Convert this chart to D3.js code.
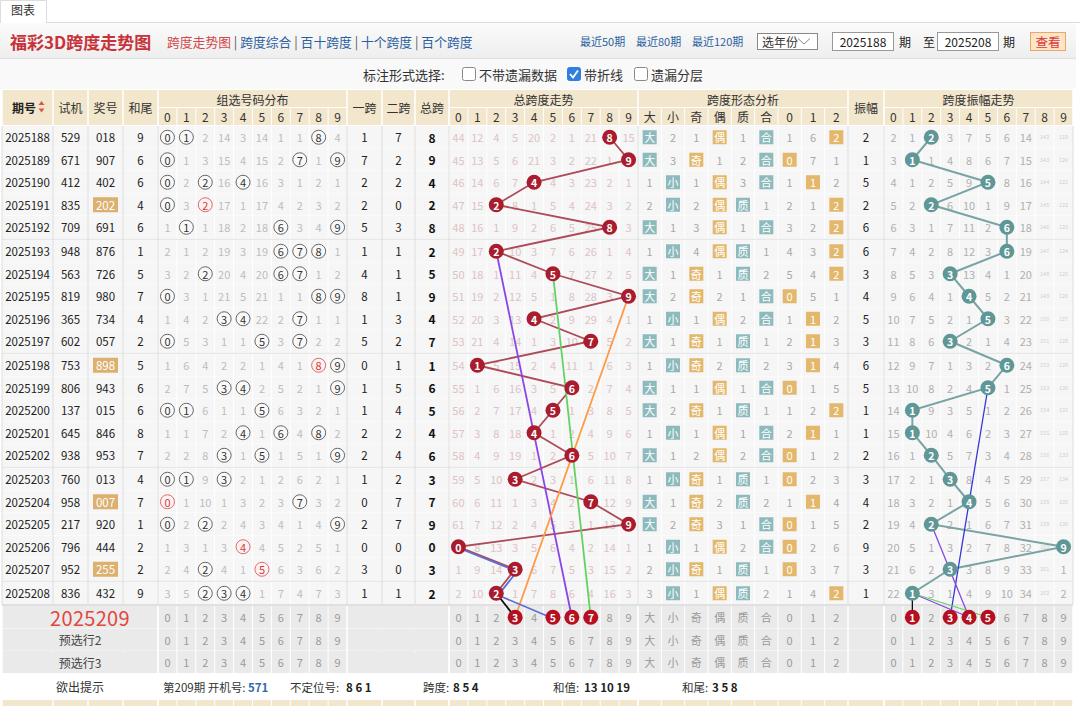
<!DOCTYPE html>
<html><head><meta charset="utf-8">
<script src="https://cdn.jsdelivr.net/npm/d3@7"></script>
<style>
body{margin:0;background:#fff;}
svg{display:block;font-family:"Noto Sans CJK SC","Noto Sans",sans-serif;}
</style>
</head><body>
<svg id="c" width="1080" height="706"></svg>
<script>
// ---------------- DATA ----------------
const periods = ["2025188","2025189","2025190","2025191","2025192","2025193","2025194","2025195","2025196","2025197","2025198","2025199","2025200","2025201","2025202","2025203","2025204","2025205","2025206","2025207","2025208"];
const shiji = ["529","671","412","835","709","948","563","819","365","602","753","806","137","645","938","760","958","217","796","952","836"];
const jianghao = ["018","907","402","202","691","876","726","980","734","057","898","943","015","846","953","013","007","920","444","255","432"];
const hewei = [9,6,6,4,6,1,5,7,4,2,5,6,6,8,7,4,7,1,2,2,9];
const zuxuanMiss = [
 [null,null,2,14,3,14,1,1,null,4],
 [null,1,3,15,4,15,2,null,1,null],
 [null,2,null,16,null,16,3,1,2,1],
 [null,3,null,17,1,17,4,2,3,2],
 [1,null,1,18,2,18,null,3,4,null],
 [2,1,2,19,3,19,null,null,null,1],
 [3,2,null,20,4,20,null,null,1,2],
 [null,3,1,21,5,21,1,1,null,null],
 [1,4,2,null,null,22,2,null,1,1],
 [null,5,3,1,1,null,3,null,2,2],
 [1,6,4,2,2,1,4,1,null,null],
 [2,7,5,null,null,2,5,2,1,null],
 [null,null,6,1,1,null,6,3,2,1],
 [1,1,7,2,null,1,null,4,null,2],
 [2,2,8,null,1,null,1,5,1,null],
 [null,null,9,null,2,1,2,6,2,1],
 [null,1,10,1,3,2,3,null,3,2],
 [null,2,null,2,4,3,4,1,4,null],
 [1,3,1,3,null,4,5,2,5,1],
 [2,4,null,4,1,null,6,3,6,2],
 [3,5,null,null,null,1,7,4,7,3]
];
const yikua = [1,7,2,2,5,1,4,8,1,5,0,1,1,2,2,1,0,2,0,3,1];
const erkua = [7,2,2,0,3,1,1,1,3,2,1,5,4,2,4,2,7,7,0,0,1];
const zongkua = [8,9,4,2,8,2,5,9,4,7,1,6,5,4,6,3,7,9,0,3,2];
const spanMiss = [
 [44,12,4,5,20,2,1,21,null,15],
 [45,13,5,6,21,3,2,22,1,null],
 [46,14,6,7,null,4,3,23,2,1],
 [47,15,null,8,1,5,4,24,3,2],
 [48,16,1,9,2,6,5,25,null,3],
 [49,17,null,10,3,7,6,26,1,4],
 [50,18,1,11,4,null,7,27,2,5],
 [51,19,2,12,5,1,8,28,3,null],
 [52,20,3,13,null,2,9,29,4,1],
 [53,21,4,14,1,3,10,null,5,2],
 [54,null,5,15,2,4,11,1,6,3],
 [55,1,6,16,3,5,null,2,7,4],
 [56,2,7,17,4,null,1,3,8,5],
 [57,3,8,18,null,1,2,4,9,6],
 [58,4,9,19,1,2,null,5,10,7],
 [59,5,10,null,2,3,1,6,11,8],
 [60,6,11,1,3,4,2,null,12,9],
 [61,7,12,2,4,5,3,1,13,null],
 [null,8,13,3,5,6,4,2,14,1],
 [1,9,14,null,6,7,5,3,15,2],
 [2,10,null,1,7,8,6,4,16,3]
];
const shapeLabels = ["大","小","奇","偶","质","合","0","1","2"];
const shapeMiss = [
 [null,2,1,null,1,null,1,6,null],
 [null,3,null,1,2,null,null,7,1],
 [1,null,1,null,3,null,1,null,2],
 [2,null,2,null,null,1,2,1,null],
 [null,1,3,null,1,null,3,2,null],
 [1,null,4,null,null,1,4,3,null],
 [null,1,null,1,null,2,5,4,null],
 [null,2,null,2,1,null,null,5,1],
 [1,null,1,null,2,null,1,null,2],
 [null,1,null,1,null,1,2,null,3],
 [1,null,null,2,null,2,3,null,4],
 [null,1,1,null,1,null,null,1,5],
 [null,2,null,1,null,1,1,2,null],
 [1,null,1,null,1,null,2,null,1],
 [null,1,2,null,2,null,null,1,2],
 [1,null,null,1,null,1,null,2,3],
 [null,1,null,2,null,2,1,null,4],
 [null,2,null,3,1,null,null,1,5],
 [1,null,1,null,2,null,null,2,6],
 [2,null,null,1,null,1,null,3,7],
 [3,null,1,null,null,2,1,4,null]
];
const zhenfu = [2,1,5,2,6,6,3,4,5,3,6,5,1,1,2,3,4,2,9,3,1];
const ampMiss = [
 [2,1,null,3,7,5,6,14,142,119],
 [3,null,1,4,8,6,7,15,143,120],
 [4,1,2,5,9,null,8,16,144,121],
 [5,2,null,6,10,1,9,17,145,122],
 [6,3,1,7,11,2,null,18,146,123],
 [7,4,2,8,12,3,null,19,147,124],
 [8,5,3,null,13,4,1,20,148,125],
 [9,6,4,1,null,5,2,21,149,126],
 [10,7,5,2,1,null,3,22,150,127],
 [11,8,6,null,2,1,4,23,151,128],
 [12,9,7,1,3,2,null,24,152,129],
 [13,10,8,2,4,null,1,25,153,130],
 [14,null,9,3,5,1,2,26,154,131],
 [15,null,10,4,6,2,3,27,155,132],
 [16,1,null,5,7,3,4,28,156,133],
 [17,2,1,null,8,4,5,29,157,134],
 [18,3,2,1,null,5,6,30,158,135],
 [19,4,null,2,1,6,7,31,159,136],
 [20,5,1,3,2,7,8,32,160,null],
 [21,6,2,null,3,8,9,33,161,1],
 [22,null,3,1,4,9,10,34,162,2]
];
const predLabels = ["2025209","预选行2","预选行3"];
const predSpan = [3,5,6,7];
const predAmp = [1,3,4,5];
// user-drawn guide lines: [rowIndex, value]; row 21 = 2025209
const spanGuides = [
 {color:"#8b45e6", pts:[[5,2],[21,6]]},
 {color:"#62d262", pts:[[6,5],[21,7]]},
 {color:"#ff9b45", pts:[[7,9],[21,3]]},
 {color:"#5a6fd8", pts:[[18,0],[19,3],[20,2],[21,5]], off:2},
 {color:"#111111", pts:[[20,2],[21,3]]}
];
const ampGuides = [
 {color:"#3636d6", pts:[[11,5],[21,3]]},
 {color:"#8b45e6", pts:[[17,2],[21,4]]},
 {color:"#8b45e6", pts:[[20,1],[21,4]]},
 {color:"#62d262", pts:[[20,1],[21,5]]},
 {color:"#111111", pts:[[20,1],[21,1]]}
];
const tipItems = [
 {label:"第209期 开机号:", value:"571", x:163, vx:248, vcolor:"#2f6aa6"},
 {label:"不定位号:", value:"8 6 1", x:290, vx:346},
 {label:"跨度:", value:"8 5 4", x:423, vx:453},
 {label:"和值:", value:"13 10 19", x:553, vx:584},
 {label:"和尾:", value:"3 5 8", x:682, vx:712}
];

// ---------------- LAYOUT ----------------
const svg = d3.select("#c");
const colQ=[2,53], colS=[53,88], colJ=[88,123], colH=[123,158];
const zx = d3.scaleBand().domain(d3.range(10)).range([158,347]);
const colY1=[347,382], colY2=[382,415], colZ=[415,449];
const sx = d3.scaleBand().domain(d3.range(10)).range([449,638]);
const fx = d3.scaleBand().domain(d3.range(9)).range([638,848]);
const colF=[848,884];
const ax = d3.scaleBand().domain(d3.range(10)).range([884,1073]);
const RH = 22.5;
const rowScale = d3.scaleLinear().domain([0,1]).range([126,126+RH]);
const rowTop = i => i<=20 ? rowScale(i) + Math.floor(i/5)*1.5 : 606 + (i-21)*RH;
const cy = i => rowTop(i) + RH/2;
const mid = c => (c[0]+c[1])/2;
const bc = (sc,v) => sc(v)+sc.bandwidth()/2;

function txt(g,x,y,s,o={}){
  return g.append("text").attr("x",x).attr("y",y)
    .attr("text-anchor",o.anchor||"middle").attr("dominant-baseline","central")
    .attr("font-size",o.size||12).attr("fill",o.fill||"#333")
    .attr("font-weight",o.weight||"normal").text(s);
}

// ---------------- TOP ----------------
const tp = svg.append("g");
tp.append("rect").attr("x",0).attr("y",0).attr("width",1080).attr("height",23).attr("fill","#fff");
tp.append("line").attr("x1",0).attr("x2",1080).attr("y1",22.5).attr("y2",22.5).attr("stroke","#ddd");
tp.append("path").attr("d","M0.5,23V0.5H46.5V23").attr("fill","#fff").attr("stroke","#ddd");
tp.append("rect").attr("x",1).attr("y",1).attr("width",45).attr("height",22.5).attr("fill","#fff");
txt(tp,23,9.5,"图表",{size:12,fill:"#333"});
const defs = svg.append("defs");
const gr = defs.append("linearGradient").attr("id","tg").attr("x1",0).attr("x2",0).attr("y1",0).attr("y2",1);
gr.append("stop").attr("offset","0").attr("stop-color","#fbfbfb");
gr.append("stop").attr("offset","1").attr("stop-color","#eeeeee");
tp.append("rect").attr("x",0).attr("y",23).attr("width",1076).attr("height",35).attr("fill","url(#tg)");
tp.append("line").attr("x1",0).attr("x2",1076).attr("y1",58.5).attr("y2",58.5).attr("stroke","#e0e0e0");
tp.append("rect").attr("x",0).attr("y",59).attr("width",1076).attr("height",30).attr("fill","#f9f9f9");
txt(tp,10,41,"福彩3D跨度走势图",{anchor:"start",size:17,weight:"bold",fill:"#c8323a"});
const links = tp.append("text").attr("x",167).attr("y",41).attr("dominant-baseline","central").attr("font-size",12.8);
links.append("tspan").attr("fill","#d2474a").text("跨度走势图");
["跨度综合","百十跨度","十个跨度","百个跨度"].forEach(s=>{
  links.append("tspan").attr("fill","#555").text(" | ");
  links.append("tspan").attr("fill","#2b5fa0").text(s);
});
[["最近50期",580],["最近80期",636],["最近120期",692]].forEach(([s,x])=>txt(tp,x,41,s,{anchor:"start",size:11,fill:"#2b5fa0"}));
tp.append("rect").attr("x",757.5).attr("y",33.5).attr("width",60).attr("height",16).attr("fill","#fff").attr("stroke","#888");
txt(tp,762,41.5,"选年份",{anchor:"start",size:12,fill:"#333"});
tp.append("path").attr("d","M798,38.5L804,44L810,38.5").attr("fill","none").attr("stroke","#888");
tp.append("rect").attr("x",832.5).attr("y",32.5).attr("width",61).attr("height",18).attr("fill","#fff").attr("stroke","#999");
txt(tp,863,41.5,"2025188",{size:12,fill:"#222"});
txt(tp,905,41.5,"期",{size:12,fill:"#222"});
txt(tp,929,41.5,"至",{size:12,fill:"#222"});
tp.append("rect").attr("x",937.5).attr("y",32.5).attr("width",61).attr("height",18).attr("fill","#fff").attr("stroke","#999");
txt(tp,968,41.5,"2025208",{size:12,fill:"#222"});
txt(tp,1009,41.5,"期",{size:12,fill:"#222"});
tp.append("rect").attr("x",1030.5).attr("y",32.5).attr("width",35).attr("height",18).attr("fill","#fde4c6").attr("stroke","#e8a86a");
txt(tp,1048,41.5,"查看",{size:12.5,fill:"#d63a3a"});
txt(tp,363,74,"标注形式选择:",{anchor:"start",size:13,fill:"#333"});
[[462,"不带遗漏数据",false],[567,"带折线",true],[634,"遗漏分层",false]].forEach(([x,s,on])=>{
  tp.append("rect").attr("x",x+0.5).attr("y",67.5).attr("width",13).attr("height",13).attr("rx",2)
    .attr("fill",on?"#2f7fe0":"#fff").attr("stroke",on?"#2f7fe0":"#888");
  if(on) tp.append("path").attr("d",`M${x+3},${74}L${x+6},${77.5}L${x+11},${70.5}`).attr("fill","none").attr("stroke","#fff").attr("stroke-width",1.8);
  txt(tp,x+17,74,s,{anchor:"start",size:13,fill:"#333"});
});

// ---------------- HEADER ----------------
const hd = svg.append("g");
const HY0=90, HY1=107.5, HY2=125;
hd.append("rect").attr("x",2).attr("y",HY0).attr("width",1071).attr("height",HY2-HY0).attr("fill","#f2e6cd");
const wl = (g,x1,y1,x2,y2,c="#fff",w=1)=>g.append("line").attr("x1",x1).attr("y1",y1).attr("x2",x2).attr("y2",y2).attr("stroke",c).attr("stroke-width",w);
const secBounds = [2,53,88,123,158,347,382,415,449,638,848,884,1073];
secBounds.forEach(x=>wl(hd,x,HY0,x,HY2,"#fff",1.5));
[[158,347],[449,638],[638,848],[884,1073]].forEach(([a,b])=>wl(hd,a,HY1,b,HY1));
[zx,sx,ax].forEach(sc=>sc.domain().forEach(d=>wl(hd,sc(d),HY1,sc(d),HY2)));
fx.domain().forEach(d=>wl(hd,fx(d),HY1,fx(d),HY2));
txt(hd,24,107.5,"期号",{size:12,weight:"bold",fill:"#222"});
hd.append("path").attr("d","M38.5,105L41.5,101L44.5,105Z").attr("fill","#e0554a");
hd.append("path").attr("d","M38.5,108.5L41.5,112.5L44.5,108.5Z").attr("fill","#e0554a");
[["试机",colS],["奖号",colJ],["和尾",colH],["一跨",colY1],["二跨",colY2],["总跨",colZ],["振幅",colF]].forEach(([s,c])=>txt(hd,mid(c),107.5,s,{size:12,fill:"#333"}));
[["组选号码分布",zx],["总跨度走势",sx],["跨度形态分析",fx],["跨度振幅走势",ax]].forEach(([s,sc])=>txt(hd,mid(sc.range()),99,s,{size:12,fill:"#333"}));
[zx,sx,ax].forEach(sc=>sc.domain().forEach(d=>txt(hd,bc(sc,d),116.5,String(d),{size:12,fill:"#333"})));
shapeLabels.forEach((s,d)=>txt(hd,bc(fx,d),116.5,s,{size:12,fill:"#333"}));

// ---------------- BODY GRID ----------------
const grid = svg.append("g");
function rowGrid(i, fill){
  const y=rowTop(i);
  grid.append("rect").attr("x",2).attr("y",y).attr("width",1071).attr("height",RH).attr("fill",fill);
  [zx,sx,ax].forEach(sc=>sc.domain().forEach(d=>wl(grid,sc(d),y,sc(d),y+RH)));
  fx.domain().forEach(d=>wl(grid,fx(d),y,fx(d),y+RH));
  wl(grid,2,y+RH,1073,y+RH,"#fff",1);
}
d3.range(21).forEach(i=>rowGrid(i,"#f6f6f6"));
d3.range(21,24).forEach(i=>rowGrid(i,"#eaeaea"));
secBounds.forEach(x=>wl(grid,x,126,x,rowTop(20)+RH,"#dedede",1));
secBounds.forEach(x=>wl(grid,x,606,x,606+3*RH,"#fff",1.5));
[5,10,15,20].forEach(i=>wl(grid,2,rowTop(i)-0.8,1073,rowTop(i)-0.8,"#dcdcdc",1));
wl(grid,2,605,1073,605,"#d6d6d6",1.5);
d3.range(21,24).forEach(i=>{
  grid.append("rect").attr("x",348).attr("y",rowTop(i)+0.5).attr("width",100).attr("height",RH-1).attr("fill","#eaeaea");
  grid.append("rect").attr("x",849).attr("y",rowTop(i)+0.5).attr("width",34).attr("height",RH-1).attr("fill","#eaeaea");
  grid.append("rect").attr("x",3).attr("y",rowTop(i)+0.5).attr("width",154).attr("height",RH-1).attr("fill","#eaeaea");
});
grid.append("rect").attr("x",2).attr("y",674).attr("width",1071).attr("height",26).attr("fill","#fff");
grid.append("rect").attr("x",2).attr("y",700).attr("width",1071).attr("height",6).attr("fill","#f2e6cd");
secBounds.forEach(x=>wl(grid,x,700,x,706,"#fff",1.5));
[zx,sx,ax].forEach(sc=>sc.domain().forEach(d=>wl(grid,sc(d),700,sc(d),706)));
fx.domain().forEach(d=>wl(grid,fx(d),700,fx(d),706));

// ---------------- BODY CONTENT ----------------
const body = svg.append("g");
periods.forEach((p,i)=>{
  const y=cy(i);
  txt(body,mid(colQ),y,p,{size:11.5,fill:"#222"});
  txt(body,mid(colS),y,shiji[i],{size:11.5,fill:"#222"});
  const digits = jianghao[i].split("").map(Number);
  const isZu3 = new Set(digits).size===2;
  if(isZu3){
    body.append("rect").attr("x",mid(colJ)-12.5).attr("y",y-7.5).attr("width",25).attr("height",15).attr("fill","#dcb06e");
  }
  txt(body,mid(colJ),y,jianghao[i],{size:11.5,fill:isZu3?"#fff":"#222"});
  txt(body,mid(colH),y,String(hewei[i]),{size:11.5,fill:"#222"});
  zuxuanMiss[i].forEach((m,d)=>{
    const x=bc(zx,d);
    if(m===null){
      const cnt = digits.filter(v=>v===d).length;
      const red = cnt>1;
      body.append("circle").attr("cx",x).attr("cy",y).attr("r",7)
        .attr("fill",red?"#fff2f2":"#f9f9f9").attr("stroke",red?"#e06a6a":"#666").attr("stroke-width",1);
      txt(body,x,y,String(d),{size:11,fill:red?"#d23c3c":"#333"});
    } else txt(body,x,y,String(m),{size:11,fill:"#bdbdbd"});
  });
  txt(body,mid(colY1),y,String(yikua[i]),{size:11.5,fill:"#222"});
  txt(body,mid(colY2),y,String(erkua[i]),{size:11.5,fill:"#222"});
  txt(body,mid(colZ),y,String(zongkua[i]),{size:12,weight:"bold",fill:"#111"});
  spanMiss[i].forEach((m,d)=>{ if(m!==null) txt(body,bc(sx,d),y,String(m),{size:11,fill:"#dcc3c3"}); });
  shapeMiss[i].forEach((m,d)=>{
    const x=bc(fx,d);
    if(m===null){
      const teal = [0,1,4,5].includes(d);
      body.append("rect").attr("x",x-7).attr("y",y-7).attr("width",14).attr("height",14).attr("fill",teal?"#8dbabc":"#e3b86c");
      txt(body,x,y,shapeLabels[d],{size:11,fill:"#fff"});
    } else txt(body,x,y,String(m),{size:11,fill:"#a8a8a8"});
  });
  txt(body,mid(colF),y,String(zhenfu[i]),{size:11.5,fill:"#222"});
  ampMiss[i].forEach((m,d)=>{
    if(m===null) return;
    if(m>=100) txt(body,bc(ax,d),y,String(m),{size:5.5,fill:"#cfcfcf"});
    else txt(body,bc(ax,d),y,String(m),{size:11,fill:"#b0b0b0"});
  });
});
predLabels.forEach((s,k)=>{
  const i=21+k, y=cy(i);
  if(k===0) txt(body,90,y,s,{size:20,fill:"#e3463c"}).attr("letter-spacing",0.3);
  else txt(body,80,y,s,{size:12,fill:"#444"});
  zx.domain().forEach(d=>txt(body,bc(zx,d),y,String(d),{size:11,fill:"#9a9a9a"}));
  sx.domain().forEach(d=>{ if(!(k===0&&predSpan.includes(d))) txt(body,bc(sx,d),y,String(d),{size:11,fill:"#9a9a9a"}); });
  shapeLabels.forEach((l,d)=>txt(body,bc(fx,d),y,l,{size:11,fill:"#9a9a9a"}));
  ax.domain().forEach(d=>{ if(!(k===0&&predAmp.includes(d))) txt(body,bc(ax,d),y,String(d),{size:11,fill:"#9a9a9a"}); });
});
txt(body,80,686.5,"欲出提示",{size:12,fill:"#333"});
tipItems.forEach(t=>{
  txt(body,t.x,686.5,t.label,{anchor:"start",size:11.5,fill:"#333"});
  txt(body,t.vx,686.5,t.value,{anchor:"start",size:11.5,weight:"bold",fill:t.vcolor||"#222"}).attr("xml:space","preserve");
});

// ---------------- TREND LINES & BALLS ----------------
const lines = svg.append("g");
const spanLine = d3.line().x(i=>bc(sx,zongkua[i])).y(i=>cy(i));
const ampLine = d3.line().x(i=>bc(ax,zhenfu[i])).y(i=>cy(i));
lines.append("path").attr("d",spanLine(d3.range(21))).attr("fill","none").attr("stroke","#ad4b58").attr("stroke-width",1.8);
lines.append("path").attr("d",ampLine(d3.range(21))).attr("fill","none").attr("stroke","#7aa3a3").attr("stroke-width",2);
const guideLine = (sc,off)=>d3.line().x(p=>bc(sc,p[1])+(off||0)).y(p=>cy(p[0])+(off||0));
spanGuides.forEach(g=>lines.append("path").attr("d",guideLine(sx,g.off)(g.pts)).attr("fill","none").attr("stroke",g.color).attr("stroke-width",1.8));
ampGuides.forEach(g=>lines.append("path").attr("d",guideLine(ax,g.off)(g.pts)).attr("fill","none").attr("stroke",g.color).attr("stroke-width",1.3));
const balls = svg.append("g");
function ball(x,y,v,color){
  balls.append("circle").attr("cx",x).attr("cy",y).attr("r",7.5).attr("fill",color);
  txt(balls,x,y+0.3,String(v),{size:10.5,weight:"bold",fill:"#fff"});
}
zongkua.forEach((v,i)=>ball(bc(sx,v),cy(i),v,"#a81c2e"));
zhenfu.forEach((v,i)=>ball(bc(ax,v),cy(i),v,"#5f9797"));
predSpan.forEach(v=>ball(bc(sx,v),cy(21),v,"#b5101f"));
predAmp.forEach(v=>ball(bc(ax,v),cy(21),v,"#b5101f"));
</script>
</body></html>
